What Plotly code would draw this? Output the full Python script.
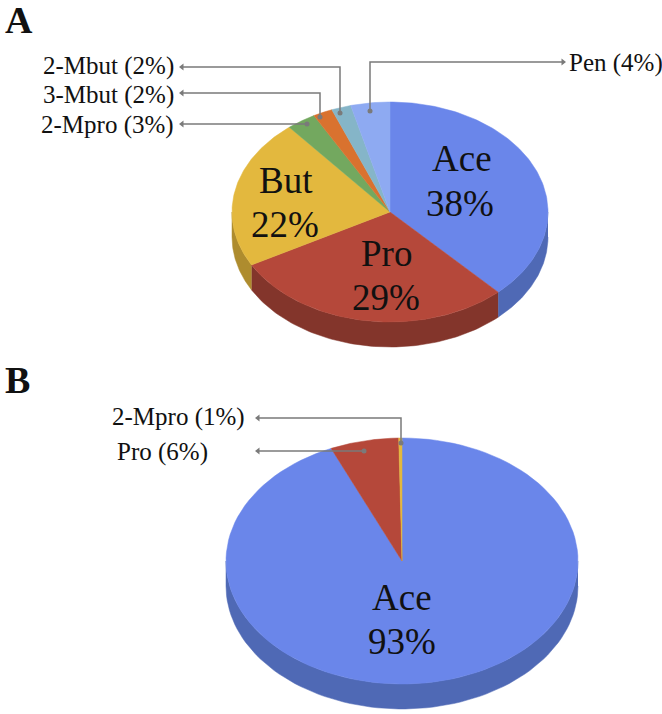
import numpy as np
import plotly.graph_objects as go

# Panel A shares (%), clockwise from 12 o'clock
a_names = ['Ace', 'Pro', 'But', '2-Mpro', '3-Mbut', '2-Mbut', 'Pen']
a_values = [38, 29, 22, 3, 2, 2, 4]
a_colors = ['#6a86ea', '#b5483a', '#e3b83e', '#73a85f', '#d9722f', '#85b5c8', '#8eaaf2']
a_sides = ['#4f69b5', '#83352b', '#ae8c2e', '#55803f', '#a4541f', '#5f8a9a', '#6a82bb']

# Panel B shares as drawn: the 2-Mpro sliver is much thinner than its "1%" label
b_names = ['Ace', 'Pro', '2-Mpro']
b_values = [93.4, 6.3, 0.3]
b_colors = ['#6a86ea', '#b5483a', '#e3b83e']
b_sides = ['#4f69b5', '#83352b', '#ae8c2e']

FONT = 'Liberation Serif'
W, H = 662, 714
LINE = '#7a7a7a'

fig = go.Figure()


def add_pie(values, colors, sides, cx, cy, rx, ry, depth):
    edges = np.cumsum([0] + list(values)) / sum(values) * 2 * np.pi
    # rim first, only the part of each slice facing the viewer
    for i, side in enumerate(sides):
        lo, hi = max(edges[i], np.pi / 2), min(edges[i + 1], 3 * np.pi / 2)
        if hi <= lo:
            continue
        t = np.linspace(lo, hi, 80)
        x = cx + rx * np.sin(t)
        y = cy - ry * np.cos(t)
        fig.add_trace(go.Scatter(
            x=np.r_[x, x[::-1]], y=np.r_[y, y[::-1] + depth],
            fill='toself', fillcolor=side, mode='lines',
            line=dict(width=0.5, color=side), hoverinfo='skip'))
    for i, color in enumerate(colors):
        t = np.linspace(edges[i], edges[i + 1], 120)
        fig.add_trace(go.Scatter(
            x=np.r_[cx, cx + rx * np.sin(t), cx],
            y=np.r_[cy, cy - ry * np.cos(t), cy],
            fill='toself', fillcolor=color, mode='lines',
            line=dict(width=0.5, color=color), hoverinfo='skip'))


add_pie(a_values, a_colors, a_sides, 390, 212, 158, 110, 25)
add_pie(b_values, b_colors, b_sides, 402, 561, 176, 123, 25)


def leader(xs, ys, head=True, dot=True):
    # polyline from the arrow head to the dot inside the slice
    fig.add_trace(go.Scatter(
        x=xs, y=ys, mode='lines', line=dict(color=LINE, width=1.5), hoverinfo='skip'))
    if head:
        sym = 'triangle-left' if xs[0] < xs[1] else 'triangle-right'
        fig.add_trace(go.Scatter(
            x=[xs[0]], y=[ys[0]], mode='markers', hoverinfo='skip',
            marker=dict(symbol=sym, size=6, color=LINE)))
    if dot:
        fig.add_trace(go.Scatter(
            x=[xs[-1]], y=[ys[-1]], mode='markers', hoverinfo='skip',
            marker=dict(symbol='circle', size=5, color=LINE)))


leader([182, 340, 340], [67, 67, 113])
leader([182, 320, 320], [93, 93, 117])
leader([182, 307], [124, 124])
leader([563, 370, 370], [62, 62, 111])
leader([258, 401, 401], [418, 418, 443])
leader([258, 364], [451, 451])


def label(x, y, text, size, anchor='center', bold=False):
    fig.add_annotation(
        x=x, y=y, xref='x', yref='y', text=f'<b>{text}</b>' if bold else text,
        showarrow=False, xanchor=anchor, yanchor='middle',
        font=dict(family=FONT, size=size, color='#111111'))


label(3, 20, 'A', 38, 'left', True)
label(3, 380, 'B', 38, 'left', True)
label(462, 158, 'Ace', 37)
label(460, 203, '38%', 37)
label(386, 253, 'Pro', 37)
label(386, 297, '29%', 37)
label(286, 180, 'But', 37)
label(285, 224, '22%', 37)
label(402, 597, 'Ace', 37)
label(402, 641, '93%', 37)
label(176, 66, '2-Mbut (2%)', 25, 'right')
label(176, 95, '3-Mbut (2%)', 25, 'right')
label(176, 125, '2-Mpro (3%)', 25, 'right')
label(567, 63, 'Pen (4%)', 25, 'left')
label(247, 417, '2-Mpro (1%)', 25, 'right')
label(210, 452, 'Pro (6%)', 25, 'right')

fig.update_layout(
    width=W, height=H,
    margin=dict(l=0, r=0, t=0, b=0),
    paper_bgcolor='white', plot_bgcolor='white',
    showlegend=False,
    xaxis=dict(range=[0, W], visible=False, fixedrange=True),
    yaxis=dict(range=[H, 0], visible=False, fixedrange=True),
)

fig.write_html("out.html", config=dict(displayModeBar=False),
               post_script="document.body.style.margin='0';")
